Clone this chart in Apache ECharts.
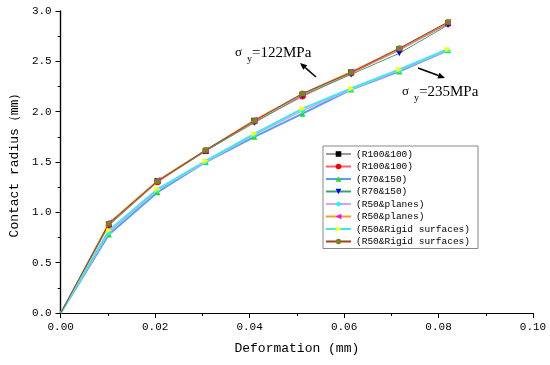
<!DOCTYPE html>
<html><head><meta charset="utf-8">
<script src="https://cdn.jsdelivr.net/npm/echarts@6/dist/echarts.min.js"></script>
<style>html,body{margin:0;padding:0;background:#fff}#c{width:550px;height:365px}</style>
</head><body><div id="c"></div>
<script>
const deformation = [0, 0.0102, 0.0205, 0.0307, 0.041, 0.0512, 0.0615, 0.0717, 0.082];
const seriesNames = ['(R100&100)', '(R100&100)', '(R70&150)', '(R70&150)', '(R50&planes)', '(R50&planes)', '(R50&Rigid surfaces)', '(R50&Rigid surfaces)'];
const s1 = [0, 0.88, 1.31, 1.61, 1.91, 2.17, 2.39, 2.62, 2.88];
const s2 = [0, 0.87, 1.30, 1.61, 1.90, 2.15, 2.38, 2.61, 2.87];
const s3 = [0, 0.78, 1.20, 1.50, 1.75, 1.98, 2.22, 2.40, 2.61];
const s4 = [0, 0.88, 1.31, 1.61, 1.89, 2.16, 2.37, 2.58, 2.86];
const s5 = [0, 0.80, 1.22, 1.50, 1.77, 2.01, 2.22, 2.41, 2.61];
const s6 = [0, 0.90, 1.32, 1.62, 1.92, 2.18, 2.40, 2.63, 2.89];
const s7 = [0, 0.82, 1.23, 1.51, 1.78, 2.03, 2.23, 2.42, 2.62];
const s8 = [0, 0.89, 1.31, 1.62, 1.91, 2.18, 2.39, 2.63, 2.89];
const values = [s1, s2, s3, s4, s5, s6, s7, s8];

const styles = [
  {line: '#9a9a9a', mark: '#000000', sym: 'rect', rot: 0, w: 1.3},
  {line: '#ff6060', mark: '#ff0000', sym: 'circle', rot: 0, w: 1},
  {line: '#5b9bf0', mark: '#22dd22', sym: 'triangle', rot: 0, w: 2},
  {line: '#3aa070', mark: '#0000ff', sym: 'triangle', rot: 180, w: 1},
  {line: '#d8a0f8', mark: '#00ffff', sym: 'diamond', rot: 0, w: 1.5},
  {line: '#f0a020', mark: '#ff00ff', sym: 'triangle', rot: 90, w: 1},
  {line: '#40e8e8', mark: '#ffff00', sym: 'triangle', rot: -90, w: 2},
  {line: '#a04020', mark: '#808020', sym: 'circle', rot: 0, w: 1}
];

const mono = '"Liberation Mono", "DejaVu Sans Mono", monospace';
const serif = '"Liberation Serif", "DejaVu Serif", serif';

const series = values.map((v, i) => ({
  name: seriesNames[i] + '\u200b'.repeat(i),
  type: 'line',
  data: deformation.map((x, j) => j === 0 ? {value: [x, v[j]], symbol: 'none'} : [x, v[j]]),
  symbol: styles[i].sym,
  symbolRotate: styles[i].rot,
  symbolSize: 6,
  showSymbol: true,
  lineStyle: {color: styles[i].line, width: styles[i].w},
  itemStyle: {color: styles[i].mark},
  animation: false,
  z: 2 + i
}));

function arrow(x1, y1, x2, y2) {
  const dx = x2 - x1, dy = y2 - y1, L = Math.hypot(dx, dy);
  const ux = dx / L, uy = dy / L, hl = 7, hw = 3;
  const bx = x2 - hl * ux, by = y2 - hl * uy;
  return [
    {type: 'line', shape: {x1, y1, x2: bx, y2: by}, style: {stroke: '#000', lineWidth: 1.5}},
    {type: 'polygon', shape: {points: [[x2, y2], [bx - hw * uy, by + hw * ux], [bx + hw * uy, by - hw * ux]]}, style: {fill: '#000'}}
  ];
}
function label(x, y, val) {
  return [
    {type: 'text', x: x, y: y, style: {text: 'σ', font: '13px ' + serif, fill: '#000', textVerticalAlign: 'middle'}},
    {type: 'text', x: x + 12, y: y + 6, style: {text: 'y', font: '10px ' + serif, fill: '#000', textVerticalAlign: 'middle'}},
    {type: 'text', x: x + 17, y: y, style: {text: '=' + val + 'MPa', font: '15px ' + serif, fill: '#000', textVerticalAlign: 'middle'}}
  ];
}

const chart = echarts.init(document.getElementById('c'), null, {renderer: 'canvas'});
chart.setOption({
  backgroundColor: '#fff',
  animation: false,
  grid: {left: 56, right: 17, top: 11, bottom: 52},
  xAxis: [{
    type: 'value', min: 0, max: 0.1, interval: 0.02,
    name: 'Deformation (mm)', nameLocation: 'middle', nameGap: 29,
    nameTextStyle: {fontFamily: mono, fontSize: 13, color: '#000'},
    axisLine: {show: true, lineStyle: {color: '#000', width: 1.2}},
    axisTick: {show: true, inside: false, length: 5, lineStyle: {color: '#000'}},
    minorTick: {show: true, splitNumber: 2, length: 3, lineStyle: {color: '#000'}},
    splitLine: {show: false},
    axisLabel: {fontFamily: mono, fontSize: 11, color: '#000', margin: 9, formatter: v => v.toFixed(2)}
  }, {
    type: 'value', min: 0, max: 0.1, interval: 0.02, position: 'top',
    axisLine: {show: true, lineStyle: {color: '#000', width: 1.2}},
    axisTick: {show: true, inside: true, length: 5, lineStyle: {color: '#000'}},
    minorTick: {show: false},
    splitLine: {show: false}, axisLabel: {show: false}
  }],
  yAxis: [{
    type: 'value', min: 0, max: 3, interval: 0.5,
    name: 'Contact radius（mm）', nameLocation: 'middle', nameGap: 32,
    nameTextStyle: {fontFamily: mono, fontSize: 13, color: '#000'},
    axisLine: {show: true, lineStyle: {color: '#000', width: 1.2}},
    axisTick: {show: true, inside: false, length: 5, lineStyle: {color: '#000'}},
    minorTick: {show: true, splitNumber: 2, length: 3, lineStyle: {color: '#000'}},
    splitLine: {show: false},
    axisLabel: {fontFamily: mono, fontSize: 11, color: '#000', margin: 9, formatter: v => v.toFixed(1)}
  }, {
    type: 'value', min: 0, max: 3, interval: 0.5, position: 'right',
    axisLine: {show: true, lineStyle: {color: '#000', width: 1.2}},
    axisTick: {show: true, inside: true, length: 5, lineStyle: {color: '#000'}},
    splitLine: {show: false}, axisLabel: {show: false}
  }],
  legend: {
    orient: 'vertical', left: 323, top: 146,
    backgroundColor: '#fff', borderColor: '#888', borderWidth: 1,
    padding: [3, 8, 2, 2], itemWidth: 25, itemHeight: 7, itemGap: 2.5,
    textStyle: {fontFamily: mono, fontSize: 9.5, color: '#000'},
    formatter: n => n.replace(/\u200b/g, ''),
    data: series.map(s => s.name)
  },
  series: series,
  graphic: [].concat(
    arrow(316, 77, 300, 63),
    arrow(418, 68, 445, 78),
    label(235, 53, '122'),
    label(402, 92, '235')
  )
});
</script></body></html>
